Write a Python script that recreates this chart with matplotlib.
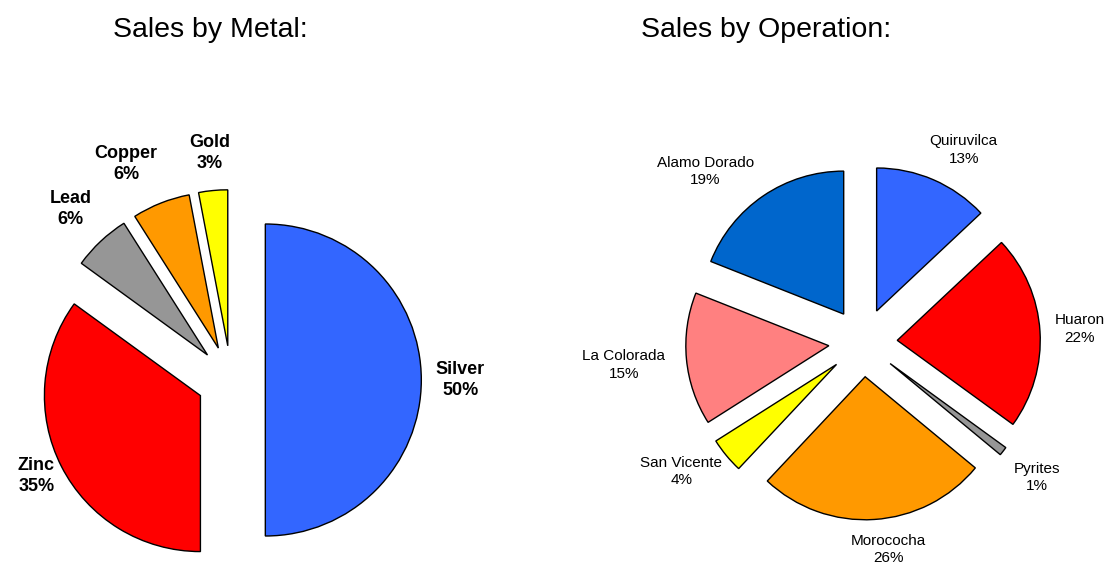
import numpy as np
import matplotlib.pyplot as plt

plt.rcParams["font.family"] = ["Liberation Sans", "DejaVu Sans"]

metal_names = ["Silver", "Zinc", "Lead", "Copper", "Gold"]
metal_share = [50, 35, 6, 6, 3]
metal_colors = ["#3366FF", "#FF0000", "#969696", "#FF9900", "#FFFF00"]

op_names = ["Quiruvilca", "Huaron", "Pyrites", "Morococha",
            "San Vicente", "La Colorada", "Alamo Dorado"]
op_share = [13, 22, 1, 26, 4, 15, 19]
op_colors = ["#3366FF", "#FF0000", "#969696", "#FF9900",
             "#FFFF00", "#FF8080", "#0066CC"]

# label placement (distance in radii from the wedge tip, angle nudge in degrees)
metal_label_dist = [1.25, 1.17, 1.28, 1.32, 1.24]
metal_label_nudge = [0, -1, 0, 5, 0]
op_label_dist = [1.28, 1.28, 1.30, 1.22, 1.32, 1.44, 1.39]
op_label_nudge = [-5, 0, 0, 4, -5, 0, 10]

W, H = 1107, 566
fig = plt.figure(figsize=(W / 100, H / 100), dpi=100)


def pie_axes(cx, cy, r, half):
    """square axes centred on (cx, cy) in pixels, 1 data unit = r px"""
    ax = fig.add_axes([(cx - half) / W, (H - cy - half) / H, 2 * half / W, 2 * half / H])
    return ax, half / r


def draw_pie(ax, lim, names, share, colors, explode, dists, nudges, fontsize, weight):
    labels = [f"{n}\n{v}%" for n, v in zip(names, share)]
    wedges, texts = ax.pie(
        share,
        labels=labels,
        colors=colors,
        startangle=90,
        counterclock=False,
        explode=[explode] * len(share),
        wedgeprops=dict(edgecolor="black", linewidth=1.0),
        textprops=dict(fontsize=fontsize, fontweight=weight, linespacing=1.3),
    )
    for w, t, d, n in zip(wedges, texts, dists, nudges):
        ang = np.deg2rad((w.theta1 + w.theta2) / 2 + n)
        cx, cy = w.center
        t.set_position((cx + d * w.r * np.cos(ang), cy + d * w.r * np.sin(ang)))
        t.set_ha("center")
        t.set_va("center")
    ax.set_xlim(-lim, lim)
    ax.set_ylim(-lim, lim)
    ax.set_axis_off()


ax1, lim1 = pie_axes(231, 380, 156, 231)
draw_pie(ax1, lim1, metal_names, metal_share, metal_colors, 0.22,
         metal_label_dist, metal_label_nudge, 13, "bold")

ax2, lim2 = pie_axes(863, 342.5, 143, 240)
draw_pie(ax2, lim2, op_names, op_share, op_colors, 0.24,
         op_label_dist, op_label_nudge, 11, "normal")

fig.text(210 / W, 1 - 30 / H, "Sales by Metal:", fontsize=20.5, ha="center", va="center")
fig.text(766 / W, 1 - 30 / H, "Sales by Operation:", fontsize=20.5, ha="center", va="center")

fig.savefig("out.png", dpi=100)
